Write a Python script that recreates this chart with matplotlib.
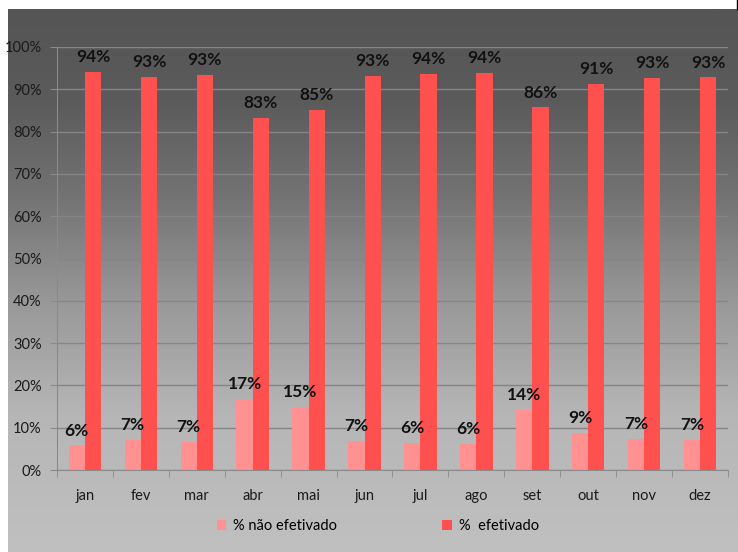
import matplotlib
matplotlib.use("Agg")
import matplotlib.pyplot as plt
import numpy as np
from matplotlib.colors import LinearSegmentedColormap

months = ["jan", "fev", "mar", "abr", "mai", "jun", "jul", "ago", "set", "out", "nov", "dez"]
nao_efetivado = [0.058, 0.070, 0.066, 0.167, 0.149, 0.068, 0.064, 0.062, 0.143, 0.088, 0.073, 0.072]
efetivado = [0.942, 0.930, 0.934, 0.833, 0.851, 0.932, 0.936, 0.938, 0.857, 0.912, 0.927, 0.928]
nao_labels = ["6%", "7%", "7%", "17%", "15%", "7%", "6%", "6%", "14%", "9%", "7%", "7%"]
ef_labels = ["94%", "93%", "93%", "83%", "85%", "93%", "94%", "94%", "86%", "91%", "93%", "93%"]
series_names = ["% não efetivado", "%  efetivado"]
yticks = [0, 0.1, 0.2, 0.3, 0.4, 0.5, 0.6, 0.7, 0.8, 0.9, 1.0]

plt.rcParams['font.family'] = ['Lato', 'DejaVu Sans']

W, H = 738, 552
fig = plt.figure(figsize=(W / 100, H / 100), dpi=100)
fig.patch.set_facecolor("white")

# gradient background
bg = fig.add_axes([8 / W, 0, 730 / W, 543 / H])
bg.set_axis_off()
cmap = LinearSegmentedColormap.from_list(
    "g", [(0.0, "#555555"), (0.17, "#5b5b5b"), (0.35, "#747474"),
          (0.55, "#9a9a9a"), (0.75, "#b6b6b6"), (1.0, "#c0c0c0")])
grad = np.linspace(0, 1, 256).reshape(-1, 1)
bg.imshow(grad, aspect="auto", cmap=cmap, extent=[0, 1, 0, 1], origin="upper")
bg.set_xlim(0, 1)
bg.set_ylim(0, 1)
# thin black line top right
fig.add_artist(plt.Line2D([737 / W, 737 / W], [1 - 9 / H, 1], color="black", lw=1))

ax = fig.add_axes([57 / W, (H - 470) / H, 671 / W, 423 / H])
ax.patch.set_alpha(0)
x = np.arange(len(months))
bw = 0.29
pink = "#ff9191"
red = "#ff5050"
b1 = ax.bar(x - bw / 2, nao_efetivado, bw, color=pink, label=series_names[0], zorder=3)
b2 = ax.bar(x + bw / 2, efetivado, bw, color=red, label=series_names[1], zorder=3)

for xi, v, t in zip(x - bw / 2, nao_efetivado, nao_labels):
    ax.annotate(t, (xi, v), xytext=(0, 5), textcoords="offset points",
                ha="center", va="bottom", fontsize=12.5, fontweight="bold", color="#111111", zorder=4)
for xi, v, t in zip(x + bw / 2, efetivado, ef_labels):
    ax.annotate(t, (xi, v), xytext=(0, 5), textcoords="offset points",
                ha="center", va="bottom", fontsize=12.5, fontweight="bold", color="#111111", zorder=4)

ax.set_xlim(-0.5, len(months) - 0.5)
ax.set_ylim(0, 1.0)
ax.set_yticks(yticks)
ax.set_yticklabels([f"{int(round(v * 100))}%" for v in yticks], fontsize=10.5, color="#1a1a1a")
ax.set_xticks(x)
ax.set_xticklabels(months, fontsize=10.5, color="#1a1a1a")
ax.tick_params(axis="x", which="major", length=0, pad=14)
ax.set_xticks(np.arange(-0.5, len(months), 1), minor=True)
ax.tick_params(axis="x", which="minor", length=5, color="#8a8a8a", direction="out")
ax.tick_params(axis="y", length=5, color="#8a8a8a", direction="out", pad=6)
ax.grid(axis="y", color="#858585", lw=1, zorder=1)
for s in ["top", "right"]:
    ax.spines[s].set_visible(False)
ax.spines["left"].set_color("#8a8a8a")
ax.spines["bottom"].set_color("#8a8a8a")
ax.spines["left"].set_zorder(2)
ax.spines["bottom"].set_zorder(5)

fig.legend(handles=[b1, b2], labels=series_names, loc="center",
           bbox_to_anchor=(378 / W, 26 / H), ncol=2, frameon=False,
           fontsize=10.5, handlelength=0.65, handleheight=0.75, handletextpad=0.5,
           columnspacing=7.2)

fig.savefig("out.png", dpi=100)
